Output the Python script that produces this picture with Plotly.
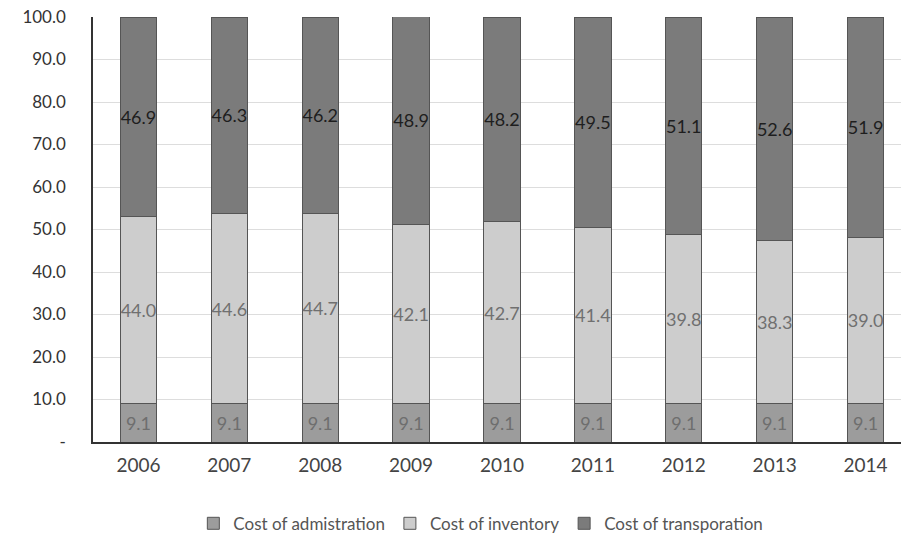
import plotly.graph_objects as go

years = ["2006", "2007", "2008", "2009", "2010", "2011", "2012", "2013", "2014"]
admin = [9.1, 9.1, 9.1, 9.1, 9.1, 9.1, 9.1, 9.1, 9.1]
inventory = [44.0, 44.6, 44.7, 42.1, 42.7, 41.4, 39.8, 38.3, 39.0]
transport = [46.9, 46.3, 46.2, 48.9, 48.2, 49.5, 51.1, 52.6, 51.9]
y_ticks = [0, 10, 20, 30, 40, 50, 60, 70, 80, 90, 100]
y_tick_text = ["-", "10.0", "20.0", "30.0", "40.0", "50.0", "60.0", "70.0", "80.0", "90.0", "100.0"]

FONT = "Lato"
fig = go.Figure()
series = [
    ("Cost of admistration", admin, "#9c9c9c", "#6e6e6e"),
    ("Cost of inventory", inventory, "#cdcdcd", "#707070"),
    ("Cost of transporation", transport, "#7b7b7b", "#1e1e1e"),
]
for name, vals, col, tcol in series:
    fig.add_trace(go.Bar(
        x=years, y=vals, name=name,
        marker=dict(color=col, line=dict(color="#555555", width=1)),
        text=[f"{v:.1f}" for v in vals],
        textposition="inside", insidetextanchor="middle", textangle=0,
        textfont=dict(family=FONT, size=18, color=tcol),
        constraintext="none",
        width=0.4,
    ))

fig.update_layout(
    barmode="stack",
    width=901, height=541,
    margin=dict(l=93, r=0, t=17, b=99, autoexpand=False),
    plot_bgcolor="white", paper_bgcolor="white",
    font=dict(family=FONT, size=17, color="#444444"),
    uniformtext=dict(mode=False),
    legend=dict(orientation="h", x=0.48, xanchor="center", y=-0.15, yanchor="top",
                font=dict(family=FONT, size=17, color="#555555"), traceorder="normal",
                itemwidth=30),
    showlegend=True,
)
fig.update_xaxes(
    range=[-0.5, 8.39], showline=True, linecolor="#333333", linewidth=1.5,
    tickfont=dict(family=FONT, size=19, color="#444444"), ticks="",
    ticklabelstandoff=5, showgrid=False,
)
fig.update_yaxes(
    range=[0, 100], tickvals=y_ticks, ticktext=y_tick_text,
    showline=True, linecolor="#333333", linewidth=1.5,
    showgrid=True, gridcolor="#dddddd", gridwidth=1,
    tickfont=dict(family=FONT, size=17, color="#333333"),
    ticklabelstandoff=22, zeroline=False,
)

fig.write_html("out.html")
